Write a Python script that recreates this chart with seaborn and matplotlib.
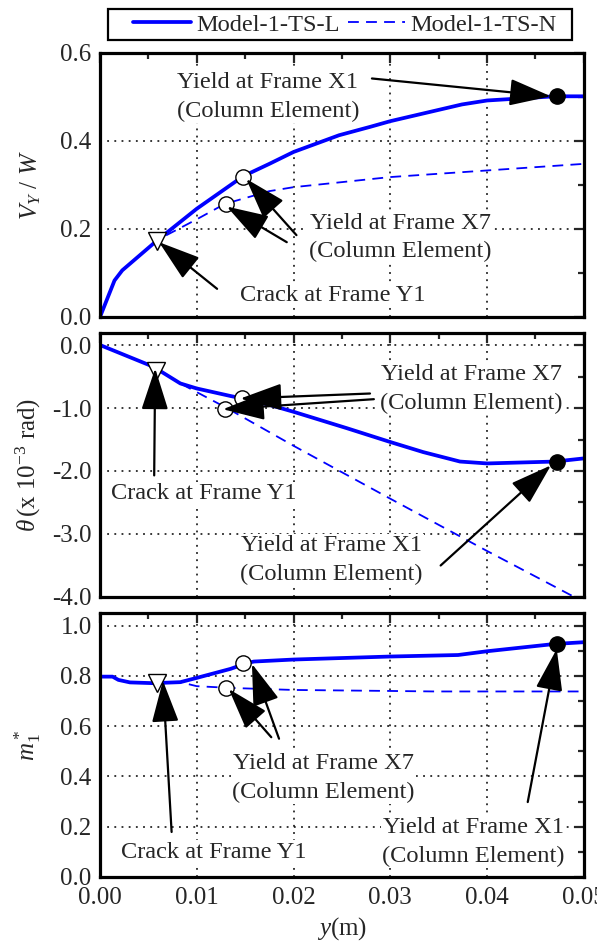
import numpy as np
import pandas as pd
import matplotlib
matplotlib.use("Agg")
import matplotlib.pyplot as plt
from matplotlib.ticker import MultipleLocator, FormatStrFormatter
from matplotlib.lines import Line2D
from matplotlib.patches import Rectangle
import seaborn as sns

# ---------------- data ----------------
series_names = ["Model-1-TS-L", "Model-1-TS-N"]

# Panel 1: V_Y / W
p1_x_L = [0, 0.0015, 0.0023, 0.0059, 0.01, 0.0148, 0.0175, 0.02, 0.0247, 0.0279, 0.03, 0.0374, 0.04, 0.047, 0.05]
p1_y_L = [0, 0.083, 0.106, 0.174, 0.246, 0.320, 0.348, 0.375, 0.413, 0.432, 0.445, 0.483, 0.492, 0.5015, 0.5015]
p1_x_N = [0, 0.0015, 0.0023, 0.0059, 0.0067, 0.01, 0.0129, 0.0175, 0.02, 0.03, 0.04, 0.05]
p1_y_N = [0, 0.083, 0.106, 0.174, 0.184, 0.222, 0.257, 0.286, 0.295, 0.318, 0.333, 0.348]

# Panel 2: theta (x 10^-3 rad)
p2_x_L = [0, 0.0055, 0.0083, 0.01, 0.0135, 0.0151, 0.0175, 0.02, 0.0255, 0.03, 0.0334, 0.0372, 0.04, 0.047, 0.05]
p2_y_L = [0, -0.344, -0.61, -0.69, -0.81, -0.86, -0.95, -1.06, -1.32, -1.54, -1.70, -1.85, -1.88, -1.85, -1.80]
p2_x_N = [0, 0.0055, 0.0083, 0.0131, 0.02, 0.03, 0.04, 0.05]
p2_y_N = [0, -0.344, -0.61, -1.00, -1.60, -2.44, -3.27, -4.08]

# Panel 3: m1*
p3_x_L = [0, 0.0013, 0.0019, 0.0031, 0.0055, 0.0083, 0.01, 0.0135, 0.0151, 0.0159, 0.02, 0.03, 0.037, 0.04, 0.047, 0.05]
p3_y_L = [0.797, 0.797, 0.784, 0.774, 0.771, 0.775, 0.792, 0.828, 0.85, 0.857, 0.865, 0.877, 0.883, 0.898, 0.927, 0.934]
p3_x_N = [0, 0.0013, 0.0019, 0.0031, 0.0055, 0.0083, 0.01, 0.0135, 0.02, 0.03, 0.0346, 0.05]
p3_y_N = [0.797, 0.797, 0.784, 0.774, 0.771, 0.775, 0.759, 0.752, 0.744, 0.740, 0.738, 0.738]

# event markers: crack Y1, yield X7 (L), yield X7 (N), yield X1 (L)
p1_events_x = [0.0059, 0.0148, 0.0130, 0.0472]
p1_events_y = [0.173, 0.318, 0.256, 0.5015]
p2_events_x = [0.0058, 0.0147, 0.0129, 0.0472]
p2_events_y = [-0.42, -0.84, -1.02, -1.85]
p3_events_x = [0.0059, 0.0148, 0.0130, 0.0472]
p3_events_y = [0.771, 0.850, 0.752, 0.927]

label_crack = "Crack at Frame Y1"
label_x7 = "Yield at Frame X7\n(Column Element)"
label_x1 = "Yield at Frame X1\n(Column Element)"

# ---------------- style ----------------
sns.set_style("white")
plt.rcParams["font.family"] = ["Liberation Serif", "DejaVu Serif"]
plt.rcParams["mathtext.fontset"] = "custom"
plt.rcParams["mathtext.rm"] = "Liberation Serif"
plt.rcParams["mathtext.it"] = "Liberation Serif:italic"
plt.rcParams["mathtext.bf"] = "Liberation Serif:bold"

BLUE = "#0000ff"
TICKFS = 18
ANNFS = 17.6

fig = plt.figure(figsize=(5.97, 9.44), dpi=100)
L, R = 0.1675, 0.978
ax1 = fig.add_axes([L, 0.6642, R - L, 0.2797])
ax2 = fig.add_axes([L, 0.3676, R - L, 0.2796])
ax3 = fig.add_axes([L, 0.0710, R - L, 0.2796])
axes = [ax1, ax2, ax3]


def draw_lines(ax, xl, yl, xn, yn):
    dfL = pd.DataFrame({"x": xl, "y": yl})
    dfN = pd.DataFrame({"x": xn, "y": yn})
    sns.lineplot(data=dfN, x="x", y="y", ax=ax, color=BLUE, lw=1.3,
                 sort=False, estimator=None, zorder=3)
    ax.lines[-1].set_dashes((6, 4))
    sns.lineplot(data=dfL, x="x", y="y", ax=ax, color=BLUE, lw=2.7,
                 sort=False, estimator=None, zorder=4)


def draw_events(ax, ex, ey):
    ms = 11
    ax.plot(ex[0], ey[0], marker="v", ms=12.5, mfc="white", mec="black", mew=1.0, zorder=6, ls="none")
    ax.plot(ex[1], ey[1], marker="o", ms=ms, mfc="white", mec="black", mew=1.0, zorder=6, ls="none")
    ax.plot(ex[2], ey[2], marker="o", ms=ms, mfc="white", mec="black", mew=1.0, zorder=6, ls="none")
    ax.plot(ex[3], ey[3], marker="o", ms=ms, mfc="black", mec="black", mew=1.0, zorder=6, ls="none")


def arrow(ax, tail, head):
    ax.annotate("", xy=head, xytext=tail,
                arrowprops=dict(arrowstyle="-|>,head_length=1.3,head_width=0.42",
                                mutation_scale=20, lw=1.6, color="black",
                                shrinkA=0, shrinkB=0),
                zorder=7)


def label(ax, x, y, s):
    ax.text(x, y, s, ha="center", va="center", fontsize=ANNFS, linespacing=1.45,
            zorder=1.8, bbox=dict(facecolor="white", edgecolor="none", pad=1.0))


draw_lines(ax1, p1_x_L, p1_y_L, p1_x_N, p1_y_N)
draw_lines(ax2, p2_x_L, p2_y_L, p2_x_N, p2_y_N)
draw_lines(ax3, p3_x_L, p3_y_L, p3_x_N, p3_y_N)
draw_events(ax1, p1_events_x, p1_events_y)
draw_events(ax2, p2_events_x, p2_events_y)
draw_events(ax3, p3_events_x, p3_events_y)

# Panel 1 annotations
label(ax1, 0.01736, 0.500, label_x1)
arrow(ax1, (0.0281, 0.542), (0.0466, 0.5015))
label(ax1, 0.0241, 0.049, label_crack)
arrow(ax1, (0.0121, 0.064), (0.0061, 0.170))
label(ax1, 0.03105, 0.180, label_x7)
arrow(ax1, (0.0193, 0.170), (0.0131, 0.251))
arrow(ax1, (0.0203, 0.186), (0.0151, 0.314))

# Panel 2 annotations
label(ax2, 0.0107, -2.36, label_crack)
arrow(ax2, (0.0056, -2.07), (0.0057, -0.37))
label(ax2, 0.0384, -0.70, label_x7)
arrow(ax2, (0.0279, -0.77), (0.0145, -0.85))
arrow(ax2, (0.0283, -0.86), (0.0127, -1.02))
label(ax2, 0.0239, -3.41, label_x1)
arrow(ax2, (0.0352, -3.50), (0.0466, -1.91))

# Panel 3 annotations
label(ax3, 0.0118, 0.099, label_crack)
arrow(ax3, (0.0074, 0.179), (0.0065, 0.781))
label(ax3, 0.0231, 0.393, label_x7)
arrow(ax3, (0.0177, 0.556), (0.0133, 0.748))
arrow(ax3, (0.0185, 0.550), (0.0157, 0.848))
label(ax3, 0.0386, 0.139, label_x1)
arrow(ax3, (0.0442, 0.298), (0.0472, 0.907))

# axes formatting
ylims = [(0, 0.6), (-4.0, 0.19), (0, 1.05)]
ymaj = [0.2, 1.0, 0.2]
ymin = [0.1, 0.5, 0.1]
for ax, yl, mj, mn in zip(axes, ylims, ymaj, ymin):
    ax.set_xlim(0, 0.05)
    ax.set_ylim(*yl)
    ax.xaxis.set_major_locator(MultipleLocator(0.01))
    ax.xaxis.set_minor_locator(MultipleLocator(0.005))
    ax.yaxis.set_major_locator(MultipleLocator(mj))
    ax.yaxis.set_minor_locator(MultipleLocator(mn))
    ax.yaxis.set_major_formatter(FormatStrFormatter("%.1f"))
    ax.xaxis.set_major_formatter(FormatStrFormatter("%.2f"))
    ax.tick_params(which="both", direction="in", top=True, right=True,
                   width=1.6, labelsize=TICKFS)
    ax.tick_params(axis="y", pad=6)
    ax.tick_params(axis="x", pad=7.5)
    ax.tick_params(which="major", length=7)
    ax.tick_params(which="minor", length=4.5)
    ax.grid(True, which="major", color="black", ls=(0, (1.2, 3.5)), lw=1.1)
    ax.set_axisbelow(True)
    for sp in ax.spines.values():
        sp.set_visible(True)
        sp.set_linewidth(2.3)
        sp.set_color("black")
        sp.set_zorder(8)
    ax.set_xlabel("")
    ax.set_ylabel("")

ax1.tick_params(labelbottom=False)
ax2.tick_params(labelbottom=False)

ax1.set_ylabel(r"$V_Y$ / $W$", fontsize=TICKFS)
ax2.set_ylabel(r"$\theta\,$(x 10$^{-3}$ rad)", fontsize=TICKFS)
ax3.set_ylabel(r"$m_1^*$", fontsize=TICKFS)
for ax in axes:
    ax.yaxis.set_label_coords(-0.117, 0.5)
ax3.set_xlabel(r"$y$(m)", fontsize=TICKFS, labelpad=4)

# legend (frame drawn as a separate rectangle to match the wide padding)
handles = [Line2D([], [], color=BLUE, lw=2.7),
           Line2D([], [], color=BLUE, lw=1.3, dashes=(6, 4))]
leg = fig.legend(handles, series_names, loc="center",
                 bbox_to_anchor=(345 / 597, 1 - 24.5 / 944), ncol=2, fontsize=17.6,
                 frameon=False, handlelength=2.35,
                 handletextpad=0.22, columnspacing=0.32, borderpad=0.0,
                 borderaxespad=0)
fig.patches.append(Rectangle((108 / 597, 1 - 39.5 / 944), 464 / 597, 30.5 / 944,
                             transform=fig.transFigure, fill=False,
                             edgecolor="black", lw=1.6))

fig.savefig("out.png", dpi=100)
